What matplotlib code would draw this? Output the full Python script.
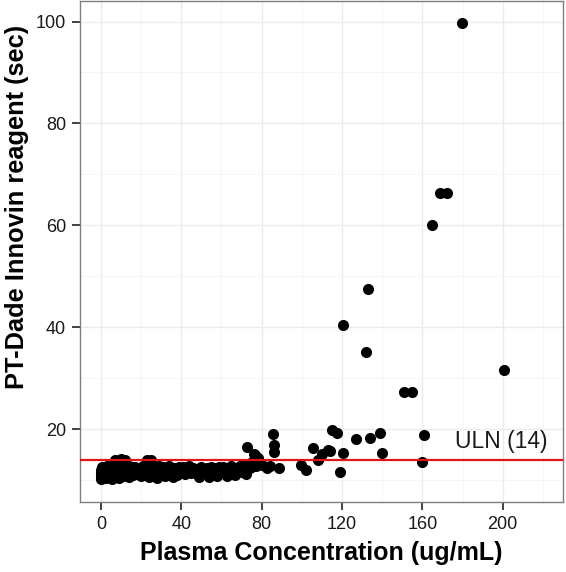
import matplotlib.pyplot as plt
from matplotlib.ticker import MultipleLocator

# plasma concentration (ug/mL) and PT (sec)
conc_low = [0, 0, 0, 0, 0.5, 1, 1, 1.5, 2, 2, 2.5, 3, 3, 3.5, 4, 4, 5, 5, 5.5, 6,
            6.5, 7, 7, 7.5, 8, 8.5, 9, 9, 10, 10, 11, 11, 12, 12, 13, 13, 14, 14,
            15, 16, 16, 17, 18, 19, 20, 21, 22, 23, 24, 24, 25, 26, 27, 28, 28,
            29, 30, 31, 32, 33, 34, 35, 36, 37, 38, 39]
pt_low = [10.3, 10.8, 11.4, 12.0, 12.6, 12.3, 10.5, 11.2, 11.8, 12.4, 10.4, 12.7,
          11.0, 11.6, 12.2, 10.6, 12.8, 11.3, 10.3, 12.0, 12.6, 14.0, 11.0, 10.6,
          11.7, 12.5, 12.8, 10.5, 14.1, 11.2, 12.0, 10.8, 12.7, 14.0, 11.5, 12.4,
          10.7, 12.8, 11.8, 12.6, 10.9, 12.5, 11.4, 12.2, 10.8, 12.7, 11.6, 13.9,
          12.3, 10.7, 14.0, 11.5, 12.6, 12.0, 10.5, 12.8, 11.3, 12.5, 10.8, 12.0,
          12.7, 11.4, 10.6, 12.3, 11.0, 12.6]

conc_mid = [40, 41, 42, 43, 44, 45, 46, 47, 48, 49, 50, 51, 52, 53, 54, 55, 56,
            57, 58, 59, 60, 61, 62, 63, 64, 65, 66, 67, 68, 69, 70, 71, 72, 72.5,
            73, 74, 75, 76, 76.5, 77, 78, 79]
pt_mid = [11.8, 12.6, 11.2, 12.1, 12.7, 11.3, 12.4, 11.5, 12.0, 10.7, 12.6, 11.8,
          11.4, 12.3, 10.7, 12.6, 11.6, 12.4, 10.8, 12.6, 11.8, 12.5, 11.4, 10.8,
          12.3, 12.7, 11.5, 10.9, 12.4, 12.8, 11.6, 12.8, 11.2, 16.4, 13.2, 12.4,
          13.5, 15.2, 14.9, 12.7, 14.3, 13.2]

conc_high = [80.2, 82.5, 84, 85.5, 86.3, 86.3, 88.7, 99.7, 102, 105.8, 108.1, 110,
             112.9, 113.9, 114.8, 117.3, 118.9, 120.7, 120.7, 126.9, 132, 132.8,
             133.7, 138.8, 139.8, 151, 155, 160, 161, 165, 168.7, 172.3, 179.8,
             200.8]
pt_high = [13.0, 12.4, 12.8, 19.0, 16.9, 15.6, 12.3, 12.9, 12.0, 16.2, 13.9, 15.1,
           15.9, 15.7, 19.8, 19.3, 11.6, 40.4, 15.4, 18.0, 35.1, 47.6, 18.2, 19.2,
           15.4, 27.3, 27.2, 13.5, 18.8, 60.1, 66.3, 66.3, 99.7, 31.7]

conc = conc_low + conc_mid + conc_high
pt = pt_low + pt_mid + pt_high
uln = 14

plt.rcParams['font.family'] = ['Liberation Sans', 'DejaVu Sans']

fig = plt.figure(figsize=(5.66, 5.72), dpi=100)
ax = fig.add_axes([0.1413, 0.1224, 0.8534, 0.8756])

ax.scatter(conc, pt, s=64, color='black', linewidths=0, zorder=3)
ax.axhline(uln, color='#e3131b', lw=1.6, zorder=4)
ax.text(176, 15.3, 'ULN (14)', fontsize=16.5, color='#1a1a1a', va='bottom', ha='left')

ax.set_xlim(-10.4, 230)
ax.set_ylim(5.7, 104)
ax.xaxis.set_major_locator(MultipleLocator(40))
ax.xaxis.set_minor_locator(MultipleLocator(20))
ax.yaxis.set_major_locator(MultipleLocator(20))
ax.yaxis.set_minor_locator(MultipleLocator(10))
ax.set_yticks([20, 40, 60, 80, 100])

ax.grid(which='major', color='#ebebeb', lw=1.0)
ax.grid(which='minor', color='#f4f4f4', lw=0.6)
ax.set_axisbelow(True)
for sp in ax.spines.values():
    sp.set_color('#7f7f7f')
    sp.set_linewidth(1.0)

ax.tick_params(which='major', length=6, width=1.3, color='#333333',
               labelsize=13, labelcolor='#1a1a1a', pad=4)
ax.tick_params(which='minor', length=0)

ax.set_xlabel('Plasma Concentration (ug/mL)', fontsize=18, fontweight='bold', labelpad=6)
ax.set_ylabel('PT-Dade Innovin reagent (sec)', fontsize=18.3, fontweight='bold')
ax.yaxis.set_label_coords(-0.105, 0.59)

fig.savefig('out.png', dpi=100)
